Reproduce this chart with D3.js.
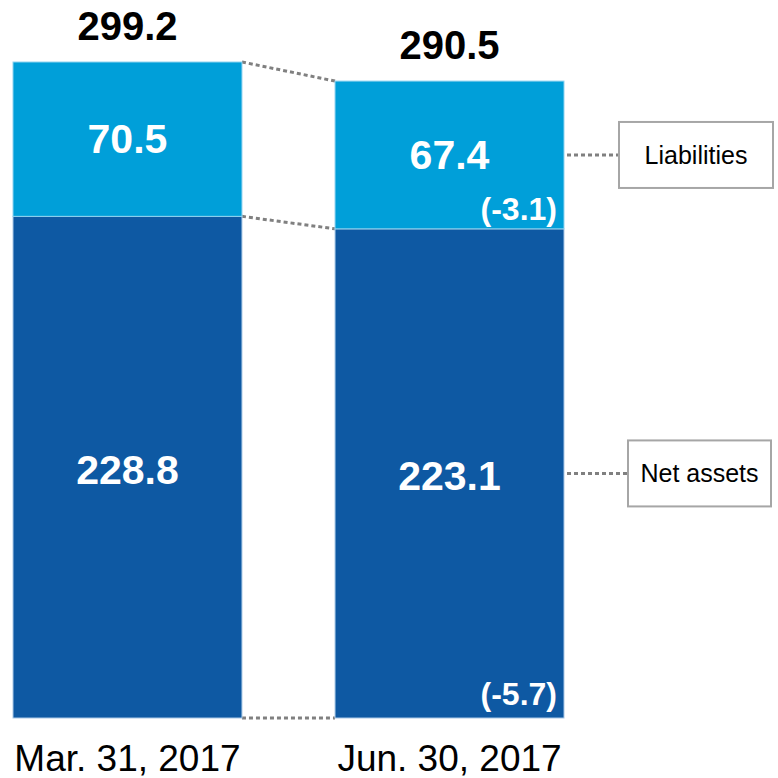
<!DOCTYPE html>
<html>
<head>
<meta charset="utf-8">
<script src="https://cdn.jsdelivr.net/npm/d3@7"></script>
<style>
  body { margin: 0; background: #fff; }
  text { font-family: "Liberation Sans", Arial, sans-serif; }
</style>
</head>
<body>
<script>
var width = 778, height = 778;

var dates = ["Mar. 31, 2017", "Jun. 30, 2017"];
var netAssets = [228.8, 223.1];
var liabilities = [70.5, 67.4];
var totals = [299.2, 290.5];
var changes = [null, {liab: "(-3.1)", net: "(-5.7)"}];
var legendNames = ["Liabilities", "Net assets"];

var colLight = "#009fd9", colDark = "#0e59a3";

var rows = dates.map(function(d, i) {
    return {date: d, net: netAssets[i], liab: liabilities[i], total: totals[i]};
});

var svg = d3.select("body").append("svg")
    .attr("width", width)
    .attr("height", height);

var x = d3.scaleBand()
    .domain(dates)
    .range([13, 564])
    .paddingInner(0.289)
    .paddingOuter(0);

var y = d3.scaleLinear()
    .domain([0, 299.2])
    .range([718, 62]);

var bw = x.bandwidth();

// connector dotted lines between bars
var links = [
    [rows[0].total, rows[1].total],
    [rows[0].net, rows[1].net],
    [0, 0]
];
svg.selectAll(".link").data(links).enter().append("line")
    .attr("x1", x(dates[0]) + bw)
    .attr("x2", x(dates[1]))
    .attr("y1", function(d) { return y(d[0]); })
    .attr("y2", function(d) { return y(d[1]); })
    .style("stroke", "#808080")
    .style("stroke-width", 3)
    .style("stroke-dasharray", "4,3");

var g = svg.selectAll(".bar").data(rows).enter().append("g");

g.append("rect")
    .attr("x", function(d) { return x(d.date); })
    .attr("width", bw)
    .attr("y", function(d) { return y(d.net); })
    .attr("height", function(d) { return y(0) - y(d.net); })
    .style("fill", colDark)
    .style("stroke", "#a9c8e6")
    .style("stroke-width", 1);

g.append("rect")
    .attr("x", function(d) { return x(d.date); })
    .attr("width", bw)
    .attr("y", function(d) { return y(d.total); })
    .attr("height", function(d) { return y(d.net) - y(d.total); })
    .style("fill", colLight)
    .style("stroke", "#8fd3f0")
    .style("stroke-width", 1);

// totals
g.append("text")
    .attr("x", function(d) { return x(d.date) + bw / 2; })
    .attr("y", function(d) { return y(d.total) - 22; })
    .attr("text-anchor", "middle")
    .style("font-size", "40px")
    .style("font-weight", "bold")
    .text(function(d) { return d.total.toFixed(1); });

// segment values
g.append("text")
    .attr("x", function(d) { return x(d.date) + bw / 2; })
    .attr("y", function(d) { return (y(d.total) + y(d.net)) / 2 + 14; })
    .attr("text-anchor", "middle")
    .style("font-size", "41px")
    .style("font-weight", "bold")
    .style("fill", "#fff")
    .text(function(d) { return d.liab.toFixed(1); });

g.append("text")
    .attr("x", function(d) { return x(d.date) + bw / 2; })
    .attr("y", function(d) { return (y(d.net) + y(0)) / 2 + 17; })
    .attr("text-anchor", "middle")
    .style("font-size", "41px")
    .style("font-weight", "bold")
    .style("fill", "#fff")
    .text(function(d) { return d.net.toFixed(1); });

// change annotations
g.filter(function(d, i) { return changes[i]; }).each(function(d) {
    var c = changes[dates.indexOf(d.date)];
    var sel = d3.select(this);
    sel.append("text")
        .attr("x", x(d.date) + bw - 7)
        .attr("y", y(d.net) - 9)
        .attr("text-anchor", "end")
        .style("font-size", "32px")
        .style("font-weight", "bold")
        .style("fill", "#fff")
        .text(c.liab);
    sel.append("text")
        .attr("x", x(d.date) + bw - 7)
        .attr("y", y(0) - 13)
        .attr("text-anchor", "end")
        .style("font-size", "32px")
        .style("font-weight", "bold")
        .style("fill", "#fff")
        .text(c.net);
});

// category labels
g.append("text")
    .attr("x", function(d) { return x(d.date) + bw / 2; })
    .attr("y", 771)
    .attr("text-anchor", "middle")
    .style("font-size", "37px")
    .text(function(d) { return d.date; });

// legend boxes
var last = rows[1];
var legend = [
    {name: legendNames[0], cy: (y(last.total) + y(last.net)) / 2, x0: 619, w: 154},
    {name: legendNames[1], cy: (y(last.net) + y(0)) / 2, x0: 628, w: 143}
];

var lg = svg.selectAll(".legend").data(legend).enter().append("g");

lg.append("line")
    .attr("x1", x(dates[1]) + bw + 3)
    .attr("x2", function(d) { return d.x0; })
    .attr("y1", function(d) { return d.cy; })
    .attr("y2", function(d) { return d.cy; })
    .style("stroke", "#808080")
    .style("stroke-width", 3)
    .style("stroke-dasharray", "4,3");

lg.append("rect")
    .attr("x", function(d) { return d.x0; })
    .attr("y", function(d) { return d.cy - 33; })
    .attr("width", function(d) { return d.w; })
    .attr("height", 66)
    .style("fill", "#fff")
    .style("stroke", "#a6a6a6")
    .style("stroke-width", 2);

lg.append("text")
    .attr("x", function(d) { return d.x0 + d.w / 2; })
    .attr("y", function(d) { return d.cy + 9; })
    .attr("text-anchor", "middle")
    .style("font-size", "25px")
    .text(function(d) { return d.name; });
</script>
</body>
</html>
